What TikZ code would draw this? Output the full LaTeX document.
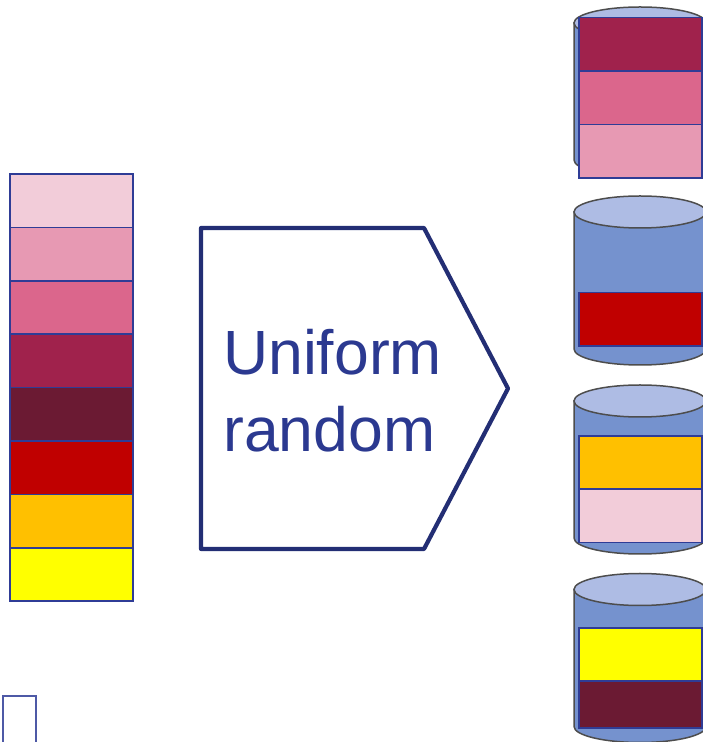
\documentclass[tikz,border=0pt]{standalone}
\usepackage{fontspec}
\newfontfamily\labelfont{Liberation Sans}
\usepackage{xcolor}
\usepackage{tikz}
\usetikzlibrary{positioning}

\definecolor{cellline}{HTML}{2F3C96}
\definecolor{arrowline}{HTML}{232E74}
\definecolor{labelblue}{HTML}{2B3990}
\definecolor{drumline}{HTML}{4D4D4D}
\definecolor{drumbody}{HTML}{7592CE}
\definecolor{drumtop}{HTML}{AEBCE4}
\definecolor{pinkA}{HTML}{F2CCD9}
\definecolor{pinkB}{HTML}{E799B3}
\definecolor{pinkC}{HTML}{DB668C}
\definecolor{roseD}{HTML}{A0224C}
\definecolor{maroonE}{HTML}{6B1A33}
\definecolor{redF}{HTML}{C00000}
\definecolor{amberG}{HTML}{FFC000}
\definecolor{yellowH}{HTML}{FFFF00}

\begin{document}
\begin{tikzpicture}[
      x=1pt, y=1pt,
      node distance=0pt,
      cell/.style={rectangle, draw=cellline, line width=1.6pt,
                   minimum width=123pt, minimum height=53.4pt,
                   inner sep=0pt, outer sep=0pt},
      drum/.style={draw=drumline, line width=1.5pt, fill=drumbody},
      lid/.style={draw=drumline, line width=1.5pt, fill=drumtop},
      sampler/.style={draw=arrowline, line width=4.2pt, line join=round}
    ]
    \useasboundingbox (0,0) rectangle (703,742);

    % input column
    \node[cell, fill=pinkA] (in1) at (71.5,541.3) {};
    \node[cell, fill=pinkB, below=of in1] (in2) {};
    \node[cell, fill=pinkC, below=of in2] (in3) {};
    \node[cell, fill=roseD, below=of in3] (in4) {};
    \node[cell, fill=maroonE, below=of in4] (in5) {};
    \node[cell, fill=redF, below=of in5] (in6) {};
    \node[cell, fill=amberG, below=of in6] (in7) {};
    \node[cell, fill=yellowH, below=of in7] (in8) {};

    % sampling step
    \draw[sampler] (201,514) -- (424,514) -- (508,353.5) -- (424,193)
                   -- (201,193) -- cycle;
    \node[font=\labelfont\fontsize{62.5}{77}\selectfont, text=labelblue,
          align=left, anchor=base west, inner sep=0pt] (label)
          at (223,290) {Uniform\\random};

    % output drums
    \draw[drum] (574,719) -- (574,582) arc (180:360:66 and 16) -- (706,719) -- cycle;
    \draw[lid] (640,719) ellipse (66 and 16);
    \draw[drum] (574,530) -- (574,393) arc (180:360:66 and 16) -- (706,530) -- cycle;
    \draw[lid] (640,530) ellipse (66 and 16);
    \draw[drum] (574,341) -- (574,204) arc (180:360:66 and 16) -- (706,341) -- cycle;
    \draw[lid] (640,341) ellipse (66 and 16);
    \draw[drum] (574,152.5) -- (574,15.5) arc (180:360:66 and 16) -- (706,152.5) -- cycle;
    \draw[lid] (640,152.5) ellipse (66 and 16);

    % drum contents
    \node[cell, fill=roseD] (a1) at (640.5,697.6) {};
    \node[cell, fill=pinkC, below=of a1] (a2) {};
    \node[cell, fill=pinkB, below=of a2] (a3) {};
    \node[cell, fill=redF] (b1) at (640.5,422.6) {};
    \node[cell, fill=amberG] (c1) at (640.5,279.4) {};
    \node[cell, fill=pinkA, below=of c1] (c2) {};
    \node[cell, fill=yellowH] (d1) at (640.5,87.5) {};
    \node[cell, fill=maroonE, minimum height=47pt, below=of d1] (d2) {};

    % stray frame
    \node[rectangle, draw=cellline!85, line width=2.2pt, fill=white,
          minimum width=33pt, minimum height=60pt, inner sep=0pt,
          anchor=north west] (frame) at (2,47) {};
  \end{tikzpicture}
\end{document}
